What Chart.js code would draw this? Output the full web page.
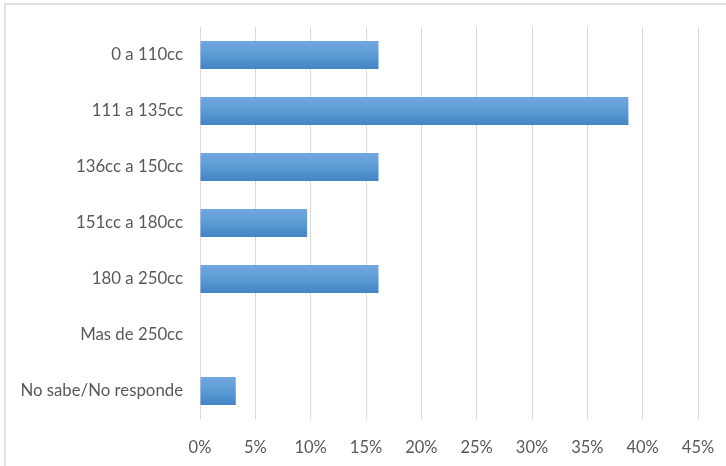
<!DOCTYPE html>
<html>
<head>
<meta charset="utf-8">
<script src="https://cdn.jsdelivr.net/npm/chart.js@4.4.1/dist/chart.umd.min.js"></script>
<style>
  html, body { margin: 0; padding: 0; background: #fff; }
  #wrap { position: relative; width: 726px; height: 466px; overflow: hidden; }
  #frame {
    position: absolute; left: 4px; top: 3px; width: 800px; height: 600px;
    border-left: 2px solid #dfe3e8; border-top: 2px solid #dfe3e8;
  }
  canvas { position: absolute; left: 0; top: 0; }
</style>
</head>
<body>
<div id="wrap">
  <div id="frame"></div>
  <canvas id="chart" width="726" height="466"></canvas>
</div>
<script>
const categories = [
  "0 a 110cc",
  "111 a 135cc",
  "136cc a 150cc",
  "151cc a 180cc",
  "180 a 250cc",
  "Mas de 250cc",
  "No sabe/No responde"
];
const shares = [16.13, 38.71, 16.13, 9.68, 16.13, 0, 3.23];
const xTicks = [0, 5, 10, 15, 20, 25, 30, 35, 40, 45];

const textColor = "#595959";
const gridColor = "#d9d9d9";

// vertical gradient across each bar, lighter on top
function barFill(context) {
  const chart = context.chart;
  const yScale = chart.scales.y;
  if (!chart.chartArea || !yScale) return "#5b9bd5";
  const cy = yScale.getPixelForValue(context.dataIndex);
  const half = (yScale.height / categories.length) * 0.25;
  const g = chart.ctx.createLinearGradient(0, cy - half, 0, cy + half);
  g.addColorStop(0, "#72a7de");
  g.addColorStop(0.5, "#5b9bd5");
  g.addColorStop(1, "#4483c6");
  return g;
}

new Chart(document.getElementById("chart"), {
  type: "bar",
  data: {
    labels: categories,
    datasets: [{
      data: shares,
      backgroundColor: barFill,
      borderWidth: 0,
      categoryPercentage: 0.5,
      barPercentage: 1
    }]
  },
  options: {
    indexAxis: "y",
    responsive: false,
    animation: false,
    layout: { padding: { top: 27, right: 28, left: 0, bottom: 0 } },
    plugins: { legend: { display: false }, tooltip: { enabled: false } },
    scales: {
      x: {
        min: 0,
        max: 45,
        afterBuildTicks: (axis) => { axis.ticks = xTicks.map(v => ({ value: v })); },
        afterFit: (axis) => {
          axis.height = 47;
          axis.paddingLeft = 0;
          axis.paddingRight = 0;
        },
        grid: { color: gridColor, drawTicks: false },
        border: { display: false },
        ticks: {
          color: textColor,
          padding: 19,
          font: { family: "Lato", size: 16.5 },
          callback: (v) => v + "%"
        }
      },
      y: {
        afterFit: (axis) => { axis.width = 200; },
        grid: { display: false },
        border: { display: false },
        ticks: {
          color: textColor,
          padding: 9,
          font: { family: "Lato", size: 16.8 }
        }
      }
    }
  }
});
</script>
</body>
</html>
